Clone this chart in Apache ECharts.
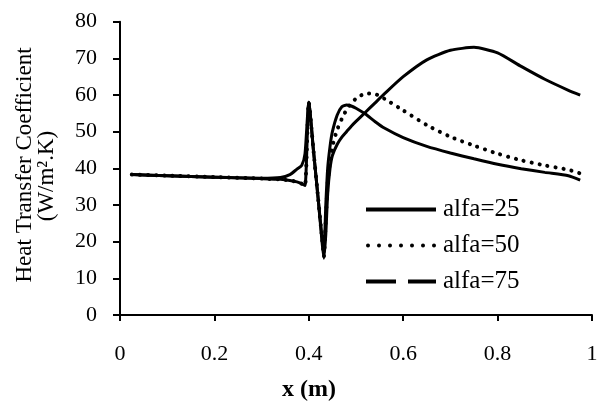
<!DOCTYPE html>
<html>
<head>
<meta charset="utf-8">
<script src="https://cdn.jsdelivr.net/npm/echarts@6/dist/echarts.min.js"></script>
<style>
html,body{margin:0;padding:0;background:#fff;}
#chart{width:597px;height:402px;}
</style>
</head>
<body>
<div id="chart"></div>
<script>
// ---- data ----
const xValues = [0.025, 0.1, 0.2, 0.3, 0.34, 0.36, 0.375, 0.385, 0.392, 0.4, 0.41, 0.42, 0.428, 0.432, 0.436, 0.44, 0.445, 0.45, 0.46, 0.47, 0.48, 0.49, 0.5, 0.52, 0.54, 0.56, 0.6, 0.65, 0.7, 0.75, 0.8, 0.85, 0.9, 0.95, 0.975];
const alfa25 = [38.3, 38.0, 37.6, 37.3, 37.5, 38.3, 39.8, 40.8, 44.0, 58.0, 44.7, 31.5, 20.0, 15.5, 22.0, 33.0, 40.0, 43.5, 46.5, 48.5, 50.0, 51.5, 52.8, 55.3, 57.8, 60.3, 65.0, 69.6, 72.2, 73.0, 71.5, 67.8, 64.3, 61.3, 60.0];
const alfa50 = [38.3, 38.0, 37.6, 37.2, 37.0, 36.7, 36.3, 35.8, 35.3, 58.0, 44.7, 31.5, 21.0, 16.0, 26.0, 36.0, 42.0, 46.0, 50.5, 53.5, 56.0, 57.8, 59.0, 60.4, 60.3, 59.0, 55.8, 51.8, 48.6, 46.2, 44.0, 42.2, 40.8, 39.6, 38.6];
const alfa75 = [38.3, 38.0, 37.6, 37.2, 37.0, 36.7, 36.3, 35.8, 35.3, 58.0, 44.7, 31.5, 21.0, 17.0, 30.0, 40.0, 46.0, 50.0, 54.5, 56.8, 57.3, 57.0, 56.4, 54.8, 52.8, 51.0, 48.4, 46.0, 44.2, 42.6, 41.1, 39.9, 38.9, 38.0, 36.8];
const seriesNames = ['alfa=25', 'alfa=50', 'alfa=75'];
const xTicks = [0, 0.2, 0.4, 0.6, 0.8, 1];
const yTicks = [0, 10, 20, 30, 40, 50, 60, 70, 80];
const xTitle = 'x (m)';
const yTitle1 = 'Heat Transfer Coefficient';
const yTitle2 = '(W/m\u00B2.K)';

const pairs = ys => xValues.map((x, i) => [x, ys[i]]);
const FONT = '"Liberation Serif", "Times New Roman", serif';

// legend icon shapes (solid, dotted, long-dashed)
const dot = cx => 'M' + (cx - 2) + ',2 a2,2 0 1,0 4,0 a2,2 0 1,0 -4,0 Z ';
const iconSolid = 'path://M0,0 H70 V4 H0 Z';
const iconDotted = 'path://' + [2, 13, 24, 35, 46, 57, 68].map(dot).join('');
const iconDashed = 'path://M0,0 H30 V4 H0 Z M42,0 H70 V4 H42 Z';

const chart = echarts.init(document.getElementById('chart'), null, {renderer: 'canvas'});
chart.setOption({
  backgroundColor: '#fff',
  animation: false,
  color: ['#000', '#000', '#000'],
  grid: {left: 120, right: 5, top: 21.7, bottom: 87, containLabel: false, outerBoundsMode: 'none'},
  xAxis: {
    type: 'value',
    min: xTicks[0], max: xTicks[xTicks.length - 1], interval: xTicks[1] - xTicks[0],
    axisLine: {lineStyle: {color: '#000', width: 2}},
    axisTick: {show: true, length: 6, inside: false, lineStyle: {color: '#000', width: 2}},
    axisLabel: {color: '#000', fontFamily: FONT, fontSize: 22, margin: 28},
    splitLine: {show: false}
  },
  yAxis: {
    type: 'value',
    min: yTicks[0], max: yTicks[yTicks.length - 1], interval: yTicks[1] - yTicks[0],
    axisLine: {show: true, lineStyle: {color: '#000', width: 2}},
    axisTick: {show: true, length: 7, lineStyle: {color: '#000', width: 2}},
    axisLabel: {color: '#000', fontFamily: FONT, fontSize: 22, margin: 23},
    splitLine: {show: false}
  },
  legend: {
    orient: 'vertical',
    left: 361, top: 192,
    itemWidth: 70, itemHeight: 4, itemGap: 11,
    symbolKeepAspect: false,
    textStyle: {color: '#000', fontFamily: FONT, fontSize: 25, padding: [0, 0, 0, 2]},
    data: [
      {name: seriesNames[0], icon: iconSolid},
      {name: seriesNames[1], icon: iconDotted},
      {name: seriesNames[2], icon: iconDashed}
    ]
  },
  graphic: [
    {type: 'text', x: 25, y: 165, rotation: Math.PI / 2,
     style: {text: yTitle1, font: '23px ' + FONT, fill: '#000', align: 'center', verticalAlign: 'middle'}},
    {type: 'text', x: 47, y: 176, rotation: Math.PI / 2,
     style: {text: yTitle2, font: '23px ' + FONT, fill: '#000', align: 'center', verticalAlign: 'middle'}},
    {type: 'text', x: 309, y: 390,
     style: {text: xTitle, font: 'bold 24px ' + FONT, fill: '#000', align: 'center', verticalAlign: 'middle'}}
  ],
  series: [
    {name: seriesNames[0], type: 'line', data: pairs(alfa25), symbol: 'none', smooth: 0.2,
     itemStyle: {color: '#000'}, lineStyle: {color: '#000', width: 3}},
    {name: seriesNames[1], type: 'line', data: pairs(alfa50), symbol: 'none', smooth: 0.2,
     itemStyle: {color: '#000'}, lineStyle: {color: '#000', width: 4, type: [0.1, 8], cap: 'round'}},
    {name: seriesNames[2], type: 'line', data: pairs(alfa75), symbol: 'none', smooth: 0.2,
     itemStyle: {color: '#000'}, lineStyle: {color: '#000', width: 3}}
  ]
});
</script>
</body>
</html>
